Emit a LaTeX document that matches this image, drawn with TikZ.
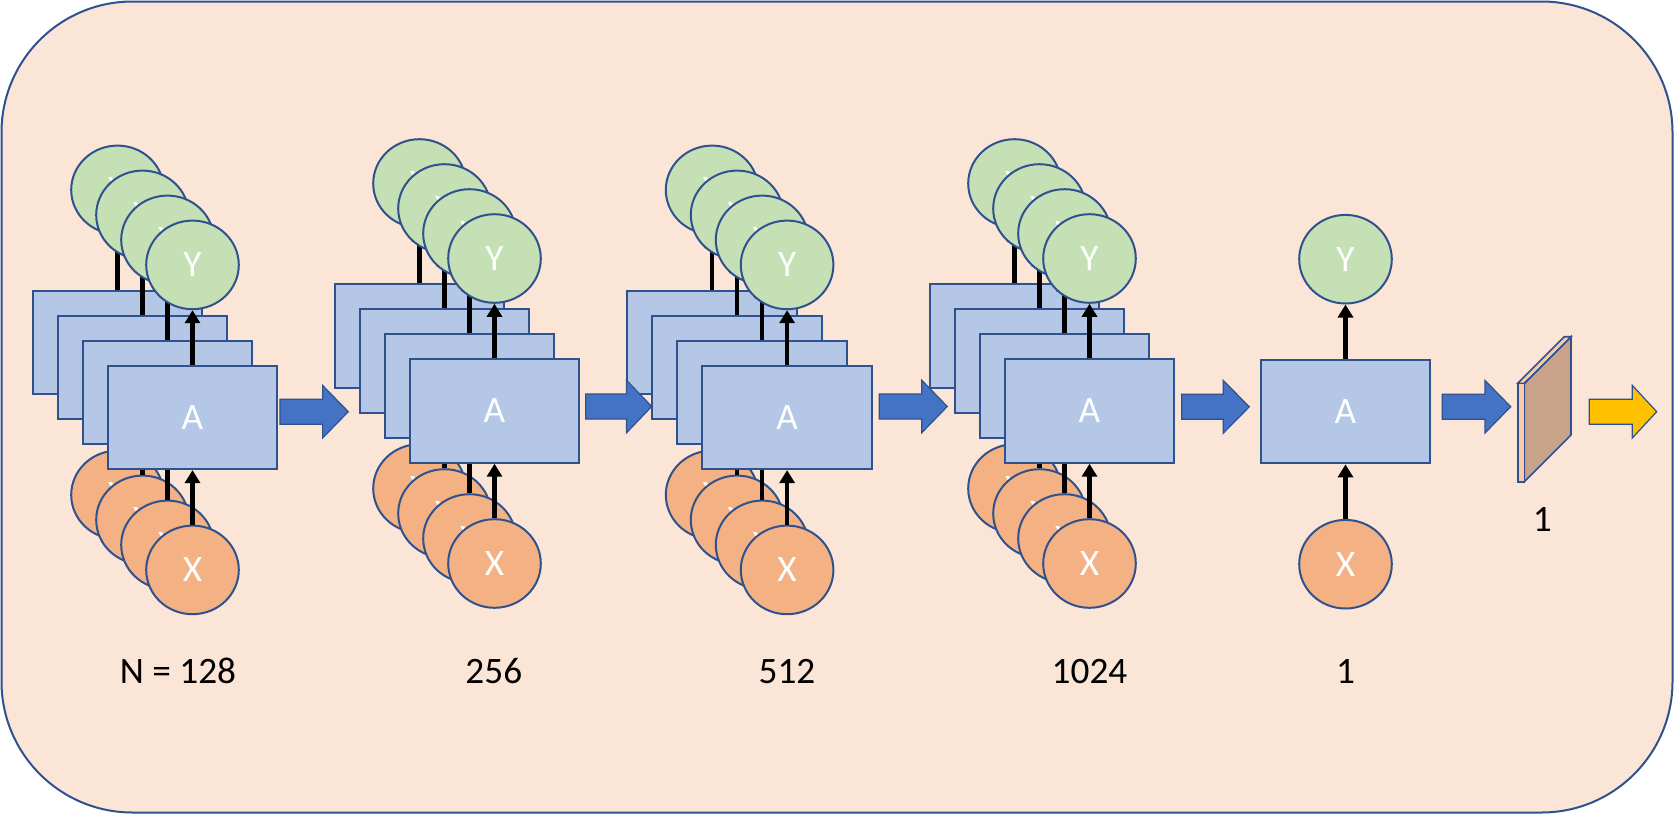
\documentclass[tikz,border=0pt]{standalone}
\usepackage{fontspec}
\setmainfont{Carlito}
\usetikzlibrary{shapes.geometric,arrows.meta}
\definecolor{bgpeach}{HTML}{FBE5D6}
\definecolor{edgeblue}{HTML}{2F528F}
\definecolor{cellblue}{HTML}{B4C7E7}
\definecolor{ygreen}{HTML}{C5E0B4}
\definecolor{xorange}{HTML}{F4B183}
\definecolor{arrowblue}{HTML}{4472C4}
\definecolor{goldarrow}{HTML}{FFC000}
\definecolor{slabbrown}{HTML}{C8A38A}
\definecolor{slablight}{HTML}{F8CBAD}
\tikzset{
  bigfont/.style={font=\fontsize{37.3}{44}\selectfont},
  cellbox/.style={draw=edgeblue, line width=2pt, fill=cellblue, minimum width=169.6pt, minimum height=103.4pt, inner sep=0pt, text=white, bigfont},
  ycirc/.style={ellipse, draw=edgeblue, line width=2pt, fill=ygreen, minimum width=92.6pt, minimum height=88.6pt, inner sep=0pt, text=white, bigfont},
  xcirc/.style={ycirc, fill=xorange},
  conn/.style={line width=4.6pt, -{Triangle[width=15pt,length=13pt]}},
  blockarr/.style={draw=edgeblue, line width=1.2pt, fill=arrowblue, line join=miter},
  goldarr/.style={blockarr, fill=goldarrow},
  lbl/.style={bigfont, text=black, anchor=base, inner sep=0pt},
  slab/.style={draw=edgeblue, line width=1.6pt, line join=miter}
}
\newcommand{\rnnlayer}[3]{%
  \node[ycirc] (#3y) at (#1,#2-152.5) {Y};
  \node[xcirc] (#3x) at (#1,#2+152.5) {X};
  \node[cellbox] (#3a) at (#1,#2) {A};
  \draw[conn] (#3a.north) -- (#3y.south);
  \draw[conn] (#3x.north) -- (#3a.south);
}
\newcommand{\rnnstack}[3]{%
  \foreach \k in {0,1,2,3}{%
    \pgfmathsetmacro\cx{#1-(3-\k)*25}%
    \pgfmathsetmacro\cy{#2-(3-\k)*25}%
    \rnnlayer{\cx}{\cy}{#3l\k}%
  }%
}
\newcommand{\blockarrow}[5]{%
  \draw[#5] (#1,#3-12.5) -- (#2-#4,#3-12.5) -- (#2-#4,#3-26.3) -- (#2,#3)
    -- (#2-#4,#3+26.3) -- (#2-#4,#3+12.5) -- (#1,#3+12.5) -- cycle;
}
\begin{document}
\begin{tikzpicture}[x=1pt,y=-1pt]
\useasboundingbox (0,0) rectangle (1674,814);
\fill[white] (0,0) rectangle (1674,814);
\draw[draw=edgeblue, line width=2pt, fill=bgpeach, rounded corners=131pt] (1.5,1.5) rectangle (1672.5,812.5);

% stacks
\rnnstack{192.5}{417.4}{sa}
\rnnstack{494.5}{411.0}{sb}
\rnnstack{787.1}{417.4}{sc}
\rnnstack{1089.5}{411.0}{sd}
\rnnlayer{1345.5}{411.7}{se}

% block arrows
\blockarrow{280}{348.3}{411.7}{25.7}{blockarr}
\blockarrow{585.7}{651.7}{406.5}{25.2}{blockarr}
\blockarrow{879.3}{947.3}{406.5}{25.6}{blockarr}
\blockarrow{1181.7}{1249.3}{406.8}{26}{blockarr}
\blockarrow{1442.3}{1510.7}{406.7}{25.7}{blockarr}
\blockarrow{1589.3}{1656.7}{411.7}{24.4}{goldarr}

% slab
\draw[slab, fill=slabbrown] (1524.3,383.3) -- (1571,336.7) -- (1571,435) -- (1524.3,481.7) -- cycle;
\draw[slab, fill=slablight] (1517.7,383.3) -- (1564.4,336.7) -- (1571,336.7) -- (1524.3,383.3) -- cycle;
\draw[slab, fill=slablight] (1517.7,383.3) rectangle (1524.3,481.7);

% labels
\node[lbl] (labA) at (178,683.3) {N = 128};
\node[lbl] (labB) at (493.8,683.3) {256};
\node[lbl] (labC) at (787,683.3) {512};
\node[lbl] (labD) at (1089.5,683.3) {1024};
\node[lbl] (labE) at (1345.5,683.3) {1};
\node[lbl] (labF) at (1542.3,531.7) {1};
\end{tikzpicture}
\end{document}
